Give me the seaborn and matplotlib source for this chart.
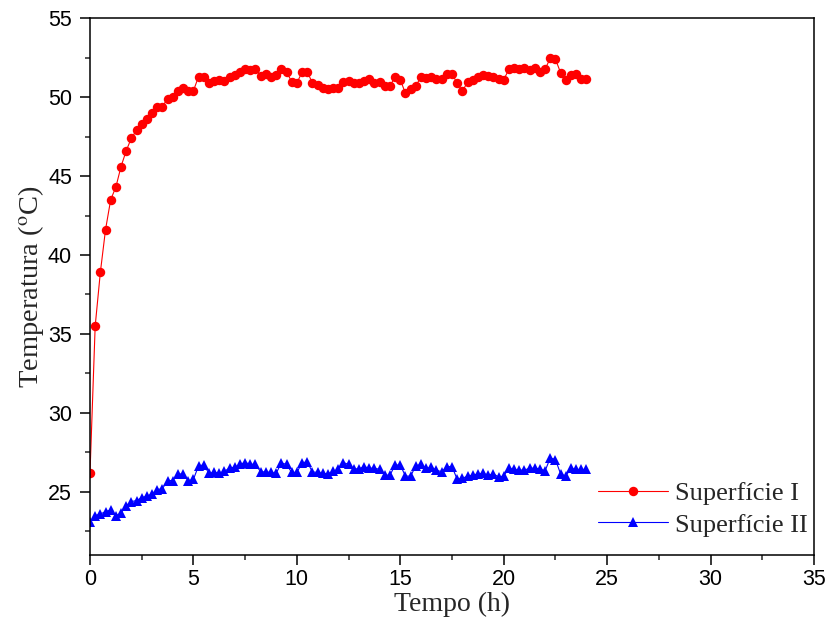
import numpy as np
import pandas as pd
import matplotlib
matplotlib.use("Agg")
import matplotlib.pyplot as plt
from matplotlib.ticker import MultipleLocator
import seaborn as sns

tempo_h = [i * 0.25 for i in range(97)]

superficie_1 = [
    26.2, 35.5, 38.9, 41.6, 43.5, 44.3, 45.6, 46.6, 47.4, 47.9,
    48.3, 48.6, 49.0, 49.4, 49.4, 49.9, 50.0, 50.4, 50.6, 50.4,
    50.4, 51.3, 51.3, 50.9, 51.0, 51.05, 51.0, 51.25, 51.4, 51.6,
    51.75, 51.7, 51.8, 51.33, 51.44, 51.3, 51.37, 51.77, 51.6, 50.97,
    50.9, 51.56, 51.6, 50.9, 50.76, 50.6, 50.5, 50.55, 50.55, 50.95,
    51.03, 50.87, 50.87, 51.03, 51.14, 50.9, 50.93, 50.68, 50.68, 51.3,
    51.1, 50.23, 50.5, 50.72, 51.25, 51.23, 51.27, 51.14, 51.14, 51.48,
    51.48, 50.87, 50.38, 50.93, 51.05, 51.25, 51.41, 51.33, 51.27, 51.16,
    51.1, 51.75, 51.86, 51.8, 51.82, 51.72, 51.82, 51.6, 51.77, 52.45,
    52.4, 51.54, 51.1, 51.41, 51.45, 51.14, 51.14,
]

superficie_2 = [
    23.12, 23.5, 23.6, 23.75, 23.86, 23.5, 23.65, 24.13, 24.39, 24.45,
    24.64, 24.73, 24.87, 25.15, 25.2, 25.72, 25.72, 26.12, 26.15, 25.7,
    25.8, 26.66, 26.7, 26.18, 26.25, 26.18, 26.3, 26.52, 26.56, 26.75,
    26.86, 26.75, 26.75, 26.27, 26.27, 26.23, 26.18, 26.84, 26.74, 26.23,
    26.23, 26.84, 26.9, 26.27, 26.23, 26.18, 26.14, 26.3, 26.42, 26.86,
    26.74, 26.46, 26.46, 26.6, 26.5, 26.5, 26.43, 26.06, 26.06, 26.7,
    26.7, 26.0, 26.0, 26.65, 26.74, 26.5, 26.55, 26.38, 26.27, 26.6,
    26.6, 25.8, 25.86, 26.0, 26.06, 26.14, 26.18, 26.06, 26.14, 25.95,
    26.0, 26.5, 26.42, 26.38, 26.38, 26.5, 26.5, 26.46, 26.33, 27.15,
    27.05, 26.14, 26.0, 26.5, 26.42, 26.42, 26.42,
]

series_labels = ["Superfície I", "Superfície II"]

df1 = pd.DataFrame({"t": tempo_h, "T": superficie_1})
df2 = pd.DataFrame({"t": tempo_h, "T": superficie_2})

sns.set_style("ticks")
plt.rcParams["font.family"] = ["Liberation Sans", "DejaVu Sans"]
plt.rcParams["mathtext.fontset"] = "stix"

fig = plt.figure(figsize=(8.28, 6.23), dpi=100)
ax = fig.add_axes([0.1087, 0.109, 0.8744, 0.862])

sns.lineplot(data=df1, x="t", y="T", ax=ax, color="#ff0000", marker="o",
             markersize=6.8, markeredgewidth=0, linewidth=0.8,
             label=series_labels[0], estimator=None)
sns.lineplot(data=df2, x="t", y="T", ax=ax, color="#0000ff", marker="^",
             markersize=7.5, markeredgewidth=0, linewidth=0.8,
             label=series_labels[1], estimator=None)

ax.set_xlim(0, 35)
ax.set_ylim(21, 55)
ax.xaxis.set_major_locator(MultipleLocator(5))
ax.xaxis.set_minor_locator(MultipleLocator(2.5))
ax.yaxis.set_major_locator(MultipleLocator(5))
ax.yaxis.set_minor_locator(MultipleLocator(2.5))

ax.tick_params(which="major", direction="out", length=7, width=1.1,
               labelsize=15.5, colors="black", pad=3)
ax.tick_params(which="minor", direction="out", length=3.6, width=1.1)
ax.tick_params(axis="y", which="major", pad=6)
ax.tick_params(top=False, right=False, which="both")

for sp in ax.spines.values():
    sp.set_visible(True)
    sp.set_linewidth(1.1)
    sp.set_color("black")

ax.set_xlabel("Tempo (h)", family=["Liberation Serif"], fontsize=20, labelpad=1)
ax.set_ylabel("Temperatura ($^{\\mathrm{o}}$C)", family=["Liberation Serif"],
              fontsize=20.5, labelpad=1)

leg = ax.legend(loc="lower right", frameon=False,
                prop={"family": "Liberation Serif", "size": 19},
                handlelength=2.65, handletextpad=0.27, labelspacing=0.3,
                borderaxespad=0.2, bbox_to_anchor=(1.013, 0.005))

fig.savefig("out.png", dpi=100)
